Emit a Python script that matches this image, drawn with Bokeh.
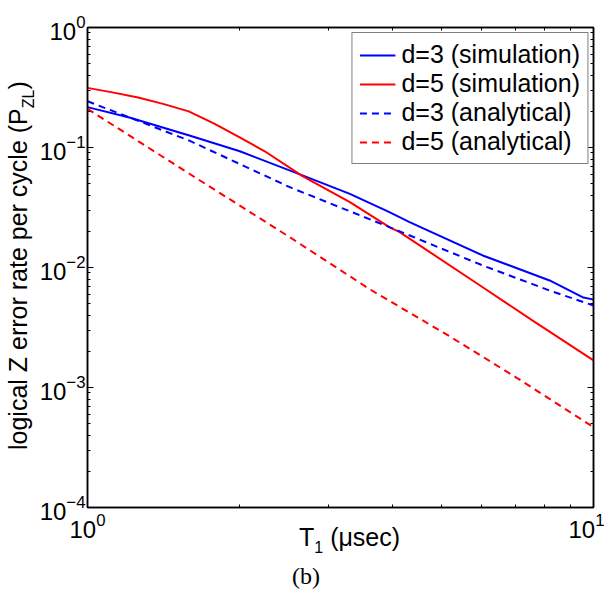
from bokeh.plotting import figure
from bokeh.models import Range1d, FixedTicker, LogAxis, Div
from bokeh.layouts import row, column
from bokeh.embed import file_html
from bokeh.resources import INLINE

# ---- data ----
t1_d3_sim = [1.0, 1.21, 1.59, 2.0, 2.66, 3.30, 3.95, 4.33, 6.04, 8.19, 9.51, 10.0]
p_d3_sim = [0.217, 0.178, 0.126, 0.093, 0.0585, 0.0411, 0.0289, 0.0239, 0.0126, 0.0078, 0.00566, 0.0054]

t1_d5_sim = [1.0, 1.12, 1.259, 1.41, 1.585, 1.78, 1.995, 2.24, 2.66, 3.30, 3.95, 4.14, 6.04, 7.57, 10.0]
p_d5_sim = [0.314, 0.288, 0.261, 0.231, 0.200, 0.158, 0.122, 0.093, 0.0578, 0.035, 0.0217, 0.0197,
            0.00685, 0.00362, 0.00168]

t1_d3_ana = [1.0, 1.59, 2.51, 3.95, 6.04, 8.19, 10.0]
p_d3_ana = [0.243, 0.114, 0.0467, 0.0217, 0.0104, 0.00643, 0.00482]

t1_d5_ana = [1.0, 1.59, 2.51, 3.61, 5.19, 7.04, 10.0]
p_d5_ana = [0.210, 0.0604, 0.0179, 0.0066, 0.00268, 0.00121, 0.000467]

series_labels = ["d=3 (simulation)", "d=5 (simulation)", "d=3 (analytical)", "d=5 (analytical)"]

x_ticks = [1, 10]
x_minor = [2, 3, 4, 5, 6, 7, 8, 9]
y_ticks = [1e-4, 1e-3, 1e-2, 1e-1, 1]
y_minor = [m * 10.0 ** e for e in range(-4, 0) for m in range(2, 10)]

x_label_main = "T"
x_label_sub = "1"
x_label_rest = " (\u03bcsec)"
y_label_main = "logical Z error rate per cycle (P"
y_label_sub = "ZL"
caption = "(b)"

FONT = "Liberation Sans"

p = figure(frame_width=506, frame_height=480, x_axis_type="log", y_axis_type="log",
           x_range=Range1d(1, 10), y_range=Range1d(1e-4, 1),
           output_backend="svg", toolbar_location=None,
           min_border_left=50, min_border_right=11, min_border_top=27, min_border_bottom=41)
p.grid.visible = False
p.outline_line_color = "black"
p.outline_line_width = 1.5
p.background_fill_color = "white"
p.border_fill_color = "white"

p.add_layout(LogAxis(), "above")
p.add_layout(LogAxis(), "right")
for ax in p.xaxis:
    ax.ticker = FixedTicker(ticks=x_ticks, minor_ticks=x_minor)
for ax in p.yaxis:
    ax.ticker = FixedTicker(ticks=y_ticks, minor_ticks=y_minor)
for ax in p.axis:
    ax.axis_line_color = "black"
    ax.axis_line_width = 1.5
    ax.major_tick_in = 6
    ax.major_tick_out = 0
    ax.minor_tick_in = 3
    ax.minor_tick_out = 0
    ax.major_tick_line_color = "black"
    ax.minor_tick_line_color = "black"
    ax.major_label_text_font = FONT
    ax.major_label_text_font_size = "24px"
    ax.major_label_text_color = "black"
for ax in (p.above[0], p.right[0]):
    ax.major_label_text_font_size = "1px"
    ax.major_label_text_color = None
    ax.major_label_standoff = 0

p.xaxis[0].major_label_standoff = 12
p.yaxis[0].major_label_standoff = 2

p.line(t1_d3_sim, p_d3_sim, line_color="#0000ff", line_width=2, legend_label=series_labels[0])
p.line(t1_d5_sim, p_d5_sim, line_color="#ff0000", line_width=2, legend_label=series_labels[1])
p.line(t1_d3_ana, p_d3_ana, line_color="#0000ff", line_width=2, line_dash="7 5", legend_label=series_labels[2])
p.line(t1_d5_ana, p_d5_ana, line_color="#ff0000", line_width=2, line_dash="7 5", legend_label=series_labels[3])

lg = p.legend[0]
lg.location = "top_right"
lg.margin = 5
lg.padding = 7
lg.spacing = 0
lg.glyph_width = 36
lg.label_standoff = 6
lg.label_text_font = FONT
lg.label_text_font_size = "25px"
lg.label_text_color = "black"
lg.border_line_color = "black"
lg.border_line_width = 1.2
lg.background_fill_alpha = 1

ylab_html = (
    '<div style="position:relative; z-index:5; width:440px; white-space:nowrap; '
    'font-family:\'Liberation Sans\', sans-serif; '
    'font-size:25px; line-height:29px; color:black; transform-origin:0 0; '
    'transform:translate(4px, 450px) rotate(-90deg);">'
    + y_label_main
    + '<span style="font-size:16px; vertical-align:-7px;">' + y_label_sub + '</span>)</div>'
)
ydiv = Div(text=ylab_html, width=36, height=548, margin=0)

bottom_html = (
    '<div style="position:relative; width:600px; height:52px; color:black;">'
    '<div style="position:absolute; left:299px; top:-25px; white-space:nowrap; '
    'font-family:\'Liberation Sans\', sans-serif; font-size:25px; line-height:29px;">'
    + x_label_main + '<span style="font-size:16px; vertical-align:-7px;">' + x_label_sub + '</span>'
    + x_label_rest + '</div>'
    '<div style="position:absolute; left:292px; top:14px; white-space:nowrap; '
    'font-family:\'Liberation Serif\', serif; font-size:24px; line-height:28px;">' + caption + '</div>'
    '</div>'
)
bdiv = Div(text=bottom_html, width=600, height=52, margin=0)

layout = column(row(ydiv, p), bdiv)
open("out.html", "w").write(file_html(layout, INLINE))
